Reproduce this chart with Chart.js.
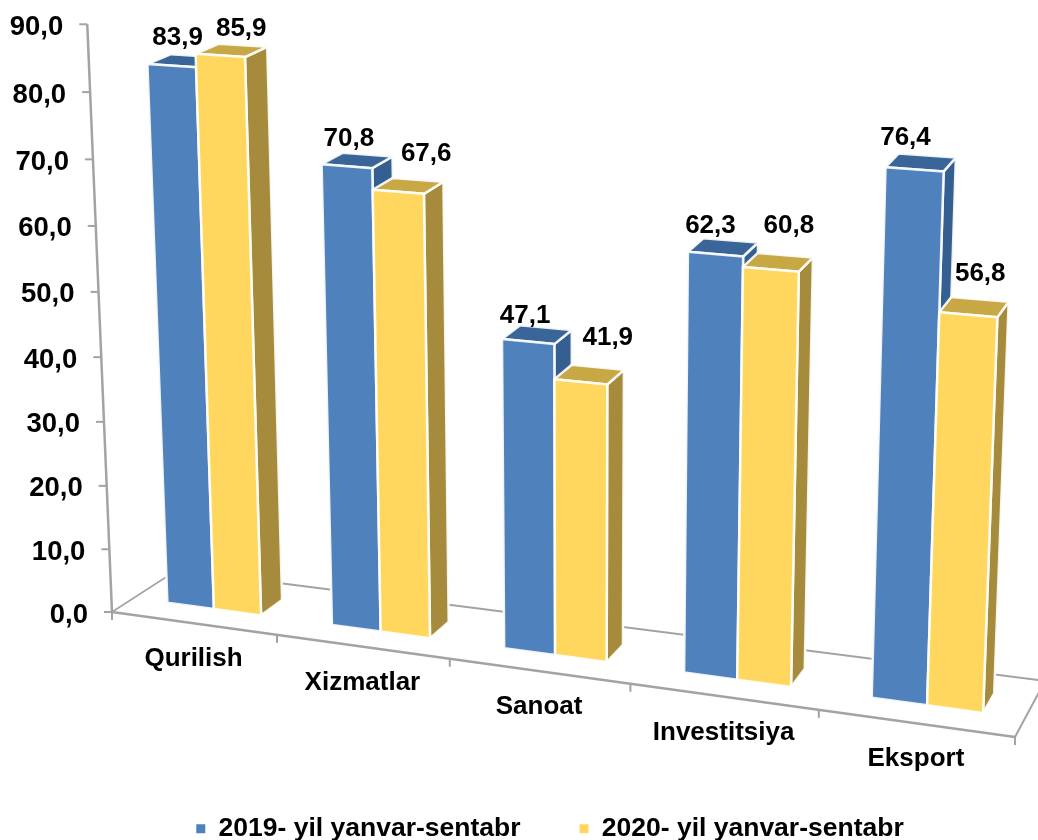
<!DOCTYPE html>
<html>
<head>
<meta charset="utf-8">
<style>
  html, body { margin: 0; padding: 0; background: #fff; overflow: hidden; }
  canvas { display: block; }
</style>
<script src="https://cdn.jsdelivr.net/npm/chart.js@4"></script>
</head>
<body>
<canvas id="chart" width="1038" height="840"></canvas>
<script>
const categories = ["Qurilish", "Xizmatlar", "Sanoat", "Investitsiya", "Eksport"];
const series2019 = [83.9, 70.8, 47.1, 62.3, 76.4];
const series2020 = [85.9, 67.6, 41.9, 60.8, 56.8];
const seriesNames = ["2019- yil yanvar-sentabr", "2020- yil yanvar-sentabr"];

const FAMILY = "'Liberation Sans', Arial, sans-serif";
const AXIS_COLOR = "#a3a3a3";
const FACE_COLORS = [
  { front: "#4f81bd", side: "#365f91", top: "#3a6598" },
  { front: "#ffd75e", side: "#a58b3b", top: "#c8a845" },
];
// where each value label sits relative to the middle of the bar's front top edge
const LABEL_SHIFT = [
  [[6, -28], [2, -27], [-3, -26], [-5, -28], [-9, -31]],
  [[21, -27], [28, -38], [27, -44], [18, -43], [12, -41]],
];

const BAR_FRONT = 0.33; // depth of the bars on the floor, 0 = front edge, 1 = back edge
const BAR_BACK = 0.68;

// the 3D look: u along the category axis, v up the value axis, d into the floor (all 0..1)
function project(u, v, d) {
  const s = 0.892 * u + 0.108 * u * u;
  const fx = 112 + 903 * s, fy = 612 + 125 * s;
  const gx = 177 + 868 * s, gy = 570 + 111 * s;
  const bx = fx + (gx - fx) * d, by = fy + (gy - fy) * d;
  const shrink = d < 0.32 ? 37 * (0.32 - d) : 20 * (0.32 - d);
  const full = 579 + 0.0705 * (bx - 156) + shrink;
  const h = full * (0.956 * v + 0.044 * v * v);
  const tilt = (bx - 583) / (11800 - by);
  return { x: bx + tilt * h, y: by - h };
}

function line(ctx, a, b, width) {
  ctx.beginPath();
  ctx.moveTo(a.x, a.y);
  ctx.lineTo(b.x, b.y);
  ctx.lineWidth = width;
  ctx.strokeStyle = AXIS_COLOR;
  ctx.stroke();
}

function face(ctx, pts, color) {
  ctx.beginPath();
  pts.forEach((p, i) => (i ? ctx.lineTo(p.x, p.y) : ctx.moveTo(p.x, p.y)));
  ctx.closePath();
  ctx.fillStyle = color;
  ctx.fill();
  ctx.lineWidth = 2.5;
  ctx.lineJoin = "round";
  ctx.strokeStyle = "rgba(255,255,255,0.9)";
  ctx.stroke();
}

const fmt = (n) => n.toFixed(1).replace(".", ",");

const bars3d = {
  id: "bars3d",
  beforeDatasetsDraw(chart) {
    const { ctx, chartArea, scales } = chart;
    const toU = (px) => (px - chartArea.left) / chartArea.width;
    const toV = (py) => (chartArea.bottom - py) / chartArea.height;

    ctx.save();

    // floor outline and axes
    line(ctx, project(0, 0, 0), project(0, 0, 1), 1.5);
    line(ctx, project(0, 0, 1), project(1, 0, 1), 2);
    line(ctx, project(1, 0, 0), project(1, 0, 1), 2);
    line(ctx, project(0, 0, 0), project(1, 0, 0), 2.5);
    line(ctx, project(0, 0, 0), project(0, 1, 0), 2.5);

    ctx.fillStyle = "#000";

    // value axis ticks and labels
    ctx.font = "bold 27.5px " + FAMILY;
    ctx.textAlign = "right";
    ctx.textBaseline = "middle";
    scales.y.ticks.forEach((t) => {
      const p = project(0, toV(scales.y.getPixelForValue(t.value)), 0);
      line(ctx, { x: p.x - 8, y: p.y }, p, 2);
      ctx.fillText(fmt(t.value), p.x - 24, p.y + 3);
    });

    // category axis ticks and labels
    ctx.font = "bold 26px " + FAMILY;
    ctx.textAlign = "center";
    for (let i = 0; i <= categories.length; i++) {
      const p = project(i / categories.length, 0, 0);
      line(ctx, p, { x: p.x, y: p.y + 8 }, 2);
    }
    scales.x.ticks.forEach((t, i) => {
      const p = project(toU(scales.x.getPixelForTick(i)), 0, 0);
      ctx.fillText(scales.x.getLabelForValue(t.value), p.x, p.y + 36);
    });

    // boxes, left to right, 2019 before 2020 in each group
    categories.forEach((c, j) => {
      [0, 1].forEach((i) => {
        const el = chart.getDatasetMeta(i).data[j];
        const u0 = toU(el.x - el.width / 2), u1 = toU(el.x + el.width / 2);
        const v = toV(el.y);
        const col = FACE_COLORS[i];
        face(ctx, [project(u1, 0, BAR_FRONT), project(u1, 0, BAR_BACK), project(u1, v, BAR_BACK), project(u1, v, BAR_FRONT)], col.side);
        face(ctx, [project(u0, v, BAR_FRONT), project(u1, v, BAR_FRONT), project(u1, v, BAR_BACK), project(u0, v, BAR_BACK)], col.top);
        face(ctx, [project(u0, 0, BAR_FRONT), project(u1, 0, BAR_FRONT), project(u1, v, BAR_FRONT), project(u0, v, BAR_FRONT)], col.front);
      });
    });

    // value labels go on top of everything
    ctx.fillStyle = "#000";
    categories.forEach((c, j) => {
      [0, 1].forEach((i) => {
        const el = chart.getDatasetMeta(i).data[j];
        const p = project(toU(el.x), toV(el.y), BAR_FRONT);
        const shift = LABEL_SHIFT[i][j];
        ctx.fillText(fmt(chart.data.datasets[i].data[j]), p.x + shift[0], p.y + shift[1]);
      });
    });

    ctx.restore();
    return false; // the flat bars are replaced by the boxes above
  },
};

new Chart(document.getElementById("chart"), {
  type: "bar",
  data: {
    labels: categories,
    datasets: [
      { label: seriesNames[0], data: series2019, backgroundColor: FACE_COLORS[0].front },
      { label: seriesNames[1], data: series2020, backgroundColor: FACE_COLORS[1].front },
    ],
  },
  options: {
    responsive: false,
    animation: false,
    layout: { padding: { left: 62, bottom: -12 } }, // legend runs to the bottom edge like the original
    datasets: { bar: { categoryPercentage: 0.575, barPercentage: 1 } },
    scales: {
      x: { display: false },
      y: { display: false, min: 0, max: 90, ticks: { stepSize: 10 } },
    },
    plugins: {
      tooltip: { enabled: false },
      legend: {
        position: "bottom",
        labels: {
          color: "#000",
          font: { family: FAMILY, size: 26.5, weight: "bold" },
          boxWidth: 9,
          boxHeight: 9,
          padding: 59,
        },
      },
    },
  },
  plugins: [bars3d],
});
</script>
</body>
</html>
